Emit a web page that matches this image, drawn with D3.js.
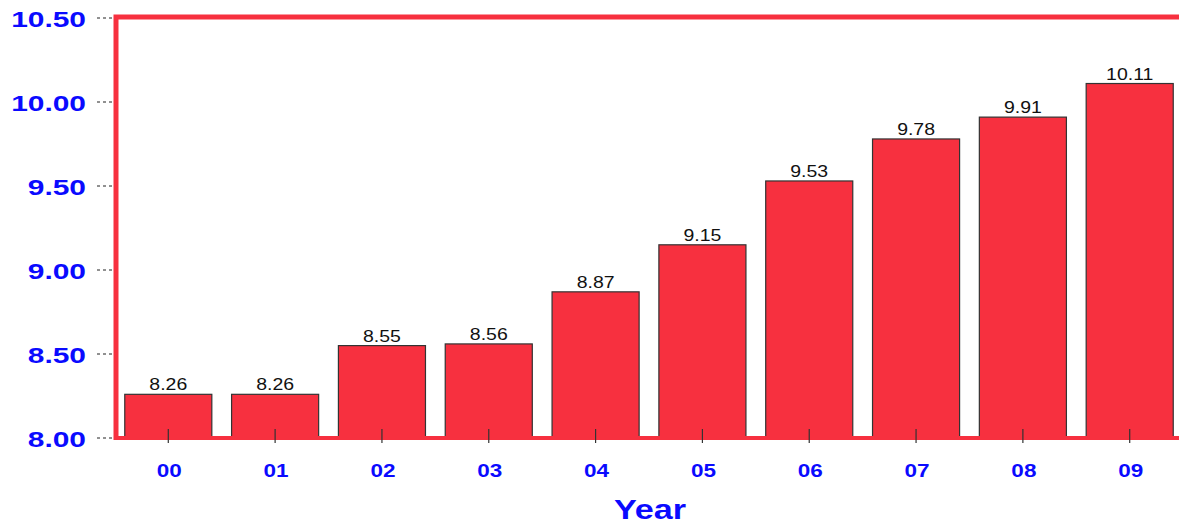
<!DOCTYPE html>
<html>
<head>
<meta charset="utf-8">
<script src="https://cdn.jsdelivr.net/npm/d3@7"></script>
<style>
  body { margin: 0; background: #fff; }
  svg { display: block; font-family: Arial, "Liberation Sans", sans-serif; }
</style>
</head>
<body>
<div id="chart"></div>
<script>
const years = ["00", "01", "02", "03", "04", "05", "06", "07", "08", "09"];
const values = [8.26, 8.26, 8.55, 8.56, 8.87, 9.15, 9.53, 9.78, 9.91, 10.11];
const yTicks = [8.0, 8.5, 9.0, 9.5, 10.0, 10.5];

const WIDTH = 1179,
  HEIGHT = 524,
  AXIS_LEFT = 116,
  PLOT_TOP = 18,
  PLOT_BOTTOM = 438,
  RED = "#f7303f",
  BLUE = "#0a0aff";

var svg = d3
  .select("#chart")
  .append("svg")
  .attr("width", WIDTH)
  .attr("height", HEIGHT);

var x = d3.scaleBand()
  .domain(years)
  .range([105, 1193])
  .paddingInner(0.185)
  .paddingOuter(0.185);

var y = d3.scaleLinear()
  .domain([8, 10.5])
  .range([PLOT_BOTTOM, PLOT_TOP]);

function wide_text(sel, sx) {
  /* the original font is a stretched sans, fake it with a horizontal scale */
  return sel.append("text")
    .attr("transform", "scale(" + sx + ",1)");
}

// y tick dashes + labels
var ytick = svg.selectAll(".ytick")
  .data(yTicks)
  .enter()
  .append("g")
  .attr("class", "ytick")
  .attr("transform", function(d) { return "translate(0," + y(d) + ")"; });

ytick.append("line")
  .attr("x1", 97)
  .attr("x2", AXIS_LEFT - 2)
  .attr("stroke", "#222")
  .attr("stroke-width", 1)
  .attr("stroke-dasharray", "3,3");

wide_text(ytick.append("g").attr("transform", "translate(86,0)"), 1.36)
  .attr("dy", "0.4em")
  .attr("text-anchor", "end")
  .attr("fill", BLUE)
  .attr("font-weight", "bold")
  .attr("font-size", 22)
  .text(function(d) { return d3.format(".2f")(d); });

// bars
svg.selectAll(".bar")
  .data(values)
  .enter()
  .append("rect")
  .attr("class", "bar")
  .attr("x", function(d, i) { return x(years[i]); })
  .attr("y", function(d) { return y(d); })
  .attr("width", x.bandwidth())
  .attr("height", function(d) { return y(8) - y(d) - 1; })
  .attr("fill", RED)
  .attr("stroke", "#333")
  .attr("stroke-width", 1.2);

var vals = svg.selectAll(".val")
  .data(values)
  .enter()
  .append("g")
  .attr("class", "val")
  .attr("transform", function(d, i) {
    return "translate(" + (x(years[i]) + x.bandwidth() / 2) + "," + (y(d) - 4) + ")";
  });

wide_text(vals, 1.18)
  .attr("text-anchor", "middle")
  .attr("font-size", 16.5)
  .attr("fill", "#111")
  .text(function(d) { return d3.format(".2f")(d); });

// red frame: left, top, bottom
svg.append("path")
  .attr("d", "M" + AXIS_LEFT + "," + (PLOT_BOTTOM + 2) + "V" + (PLOT_TOP - 1) + "H" + WIDTH)
  .attr("fill", "none")
  .attr("stroke", RED)
  .attr("stroke-width", 5);

svg.append("line")
  .attr("x1", AXIS_LEFT - 2)
  .attr("x2", WIDTH)
  .attr("y1", PLOT_BOTTOM)
  .attr("y2", PLOT_BOTTOM)
  .attr("stroke", RED)
  .attr("stroke-width", 4);

// x ticks + labels
var xtick = svg.selectAll(".xtick")
  .data(years)
  .enter()
  .append("g")
  .attr("class", "xtick")
  .attr("transform", function(d) { return "translate(" + (x(d) + x.bandwidth() / 2) + ",0)"; });

xtick.append("line")
  .attr("y1", PLOT_BOTTOM - 9)
  .attr("y2", PLOT_BOTTOM + 5)
  .attr("stroke", "#333")
  .attr("stroke-width", 1.2);

wide_text(xtick.append("g").attr("transform", "translate(1,477)"), 1.25)
  .attr("text-anchor", "middle")
  .attr("fill", BLUE)
  .attr("font-weight", "bold")
  .attr("font-size", 18)
  .text(function(d) { return d; });

wide_text(svg.append("g").attr("transform", "translate(650,519)"), 1.22)
  .attr("text-anchor", "middle")
  .attr("fill", BLUE)
  .attr("font-weight", "bold")
  .attr("font-size", 28)
  .text("Year");
</script>
</body>
</html>
